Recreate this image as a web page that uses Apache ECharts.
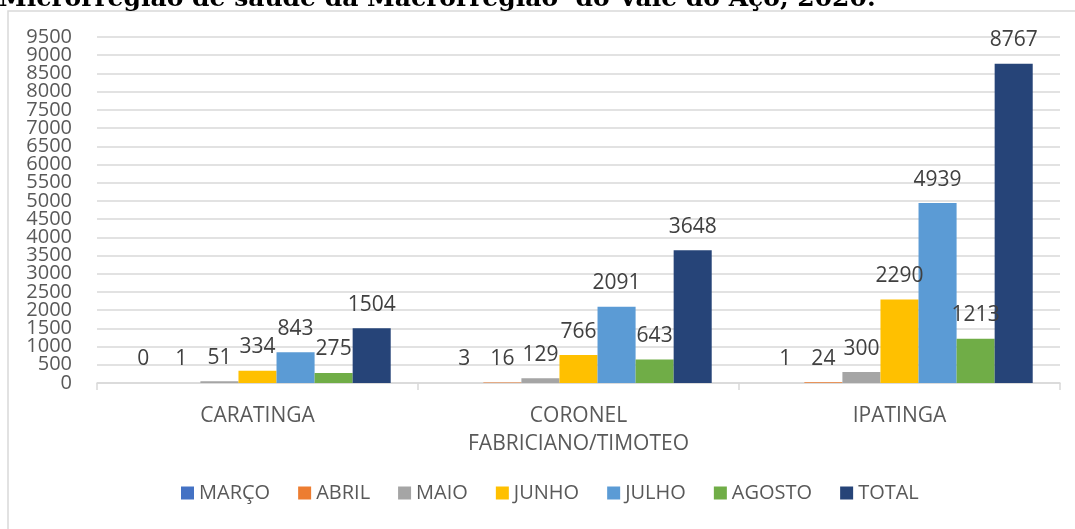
<!DOCTYPE html>
<html>
<head>
<meta charset="utf-8">
<script src="https://cdn.jsdelivr.net/npm/echarts@6/dist/echarts.min.js"></script>
<style>html,body{margin:0;padding:0;background:#fff;}#c{width:1075px;height:529px;}</style>
</head>
<body>
<div id="c"></div>
<script>
const titleText = 'Microrregião de saúde da Macrorregião  do Vale do Aço, 2020.';
const categories = ['CARATINGA', 'CORONEL\nFABRICIANO/TIMOTEO', 'IPATINGA'];
const seriesNames = ['MARÇO', 'ABRIL', 'MAIO', 'JUNHO', 'JULHO', 'AGOSTO', 'TOTAL'];
const marco = [0, 3, 1];
const abril = [1, 16, 24];
const maio = [51, 129, 300];
const junho = [334, 766, 2290];
const julho = [843, 2091, 4939];
const agosto = [275, 643, 1213];
const total = [1504, 3648, 8767];
const colors = ['#4472C4', '#ED7D31', '#A5A5A5', '#FFC000', '#5B9BD5', '#70AD47', '#264478'];
const yMin = 0, yMax = 9500, yStep = 500;

const values = [marco, abril, maio, junho, julho, agosto, total];
const FONT = '"Open Sans", sans-serif';

// two overlaid value axes share the same scale; each prints every other tick label
function yAxisDef(showEven, withGrid) {
  return {
    type: 'value', min: yMin, max: yMax, interval: yStep, position: 'left',
    axisLine: {show: false}, axisTick: {show: false},
    splitLine: {show: withGrid, lineStyle: {color: '#d9d9d9', width: 1.5}},
    axisLabel: {margin: 25, color: '#595959', fontSize: 20, fontFamily: FONT,
      showMinLabel: true, showMaxLabel: true, hideOverlap: false,
      formatter: v => ((Math.round(v / yStep) % 2 === 0) === showEven ? String(v) : '')}
  };
}

const chart = echarts.init(document.getElementById('c'));
chart.setOption({
  animation: false,
  color: colors,
  graphic: [
    {type: 'rect', shape: {x: 8, y: 11, width: 1090, height: 540},
     style: {fill: null, stroke: '#d9d9d9', lineWidth: 1.5}, silent: true},
    {type: 'text', left: -1, top: -13,
     style: {text: titleText, font: 'bold 25px "DejaVu Serif", serif', fill: '#000'}}
  ],
  grid: {left: 97, right: 15, top: 37, bottom: 146},
  legend: {
    bottom: 21, left: 176,
    itemWidth: 13, itemHeight: 13, itemGap: 28,
    icon: 'rect',
    textStyle: {color: '#595959', fontSize: 20, fontFamily: FONT}
  },
  xAxis: {
    type: 'category', data: categories,
    axisLine: {lineStyle: {color: '#d9d9d9', width: 1.5}},
    axisTick: {show: true, length: 7, lineStyle: {color: '#d9d9d9', width: 1.5}},
    axisLabel: {color: '#595959', fontSize: 21, fontFamily: FONT, margin: 19, lineHeight: 28}
  },
  yAxis: [yAxisDef(true, true), yAxisDef(false, false)],
  series: seriesNames.map((n, i) => ({
    name: n, type: 'bar', data: values[i], yAxisIndex: 0,
    barGap: '0%', barCategoryGap: '17%',
    label: {show: true, position: 'top', distance: 13, color: '#404040', fontSize: 21, fontFamily: FONT}
  }))
});
</script>
</body>
</html>
